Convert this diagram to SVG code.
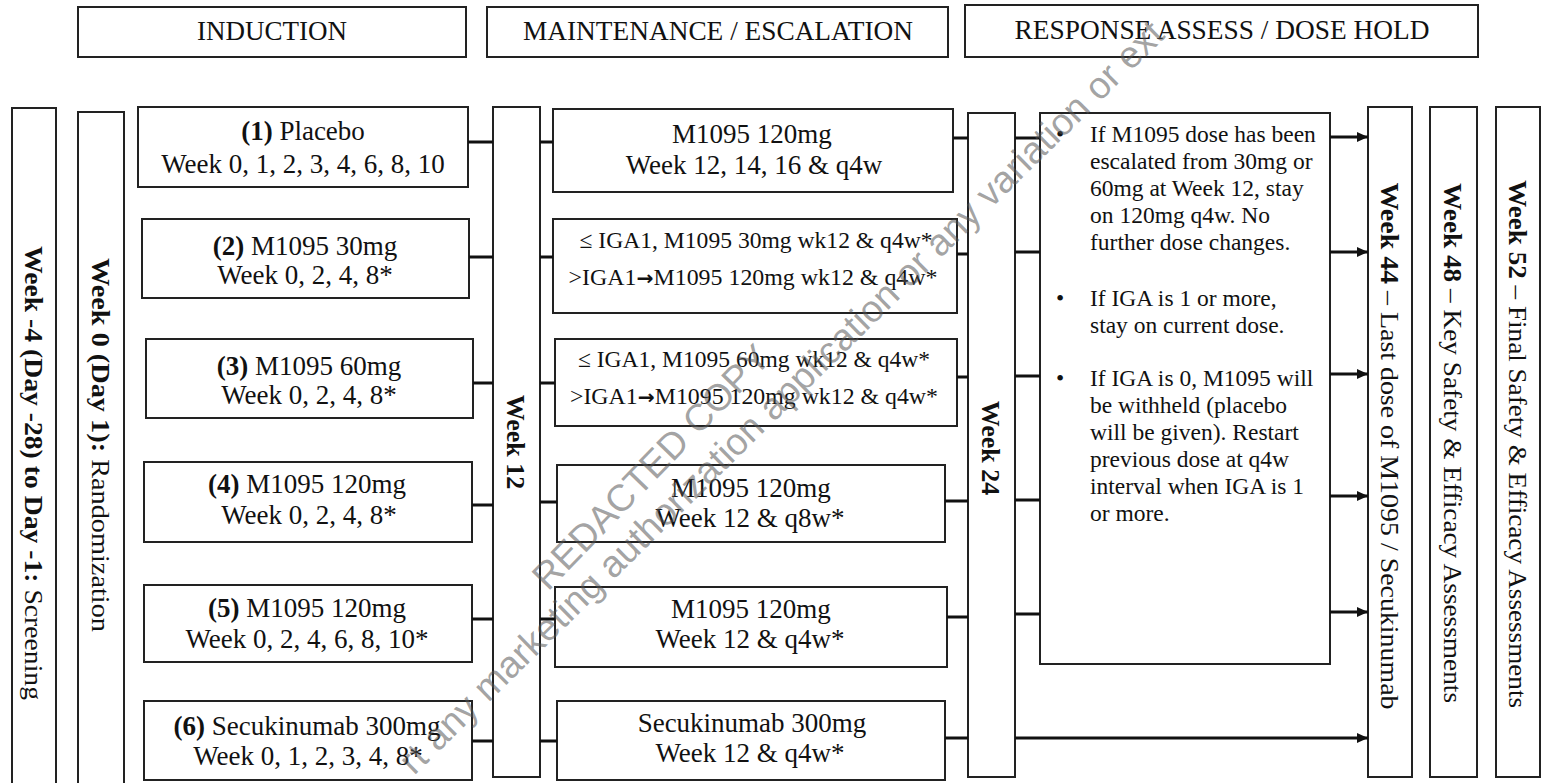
<svg xmlns="http://www.w3.org/2000/svg" width="1542" height="783" viewBox="0 0 1542 783">
<style>
.box{fill:#fff;stroke:#222;stroke-width:2}
.t{font-family:"Liberation Serif","Times New Roman",serif;fill:#111;font-size:27px}
.h{font-size:27px}
.s{font-size:23.5px}
.r{font-size:23.5px}
.v{font-size:26px}
.b{font-weight:bold}
.ar{font-family:"DejaVu Sans",sans-serif;font-weight:bold;font-size:20px}
.c{stroke:#111;stroke-width:3;fill:none}
.a{stroke:#111;stroke-width:3;fill:none;marker-end:url(#arr)}
.wm{font-family:"Liberation Sans",Arial,sans-serif;fill:#555;fill-opacity:0.55;font-size:37.5px}
</style>
<defs>
<marker id="arr" markerUnits="userSpaceOnUse" markerWidth="11" markerHeight="10" refX="11" refY="5" orient="auto">
<path d="M0,0 L11,5 L0,10 z" fill="#111"/>
</marker>
</defs>
<rect width="1542" height="783" fill="#fff"/>

<g id="hdr-induction"><rect class="box" x="78" y="7" width="388" height="50"/><text class="t h" x="272" y="40" text-anchor="middle" textLength="150" lengthAdjust="spacingAndGlyphs">INDUCTION</text></g>
<g id="hdr-maintenance"><rect class="box" x="487" y="7" width="461" height="50"/><text class="t h" x="718" y="40" text-anchor="middle" textLength="390" lengthAdjust="spacingAndGlyphs">MAINTENANCE / ESCALATION</text></g>
<g id="hdr-response"><rect class="box" x="965" y="5" width="513" height="52"/><text class="t h" x="1222" y="39" text-anchor="middle" textLength="415" lengthAdjust="spacingAndGlyphs">RESPONSE ASSESS / DOSE HOLD</text></g>

<g id="col-screening"><rect class="box" x="12" y="108" width="44" height="690"/><text class="t v" transform="translate(34,473) rotate(90)" x="0" y="9" text-anchor="middle" textLength="454" lengthAdjust="spacingAndGlyphs"><tspan class="b">Week -4 (Day -28) to Day -1:</tspan> Screening</text></g>
<g id="col-randomization"><rect class="box" x="78" y="112" width="46" height="690"/><text class="t v" transform="translate(101,445) rotate(90)" x="0" y="9" text-anchor="middle" textLength="374" lengthAdjust="spacingAndGlyphs"><tspan class="b">Week 0 (Day 1):</tspan>  Randomization</text></g>

<g id="arm1"><rect class="box" x="138" y="107" width="330" height="80"/><text class="t" x="303" y="140" text-anchor="middle"><tspan class="b">(1)</tspan> Placebo</text><text class="t" x="303" y="173" text-anchor="middle">Week 0, 1, 2, 3, 4, 6, 8, 10</text></g>
<g id="arm2"><rect class="box" x="142" y="219" width="327" height="79"/><text class="t" x="305" y="255" text-anchor="middle"><tspan class="b">(2)</tspan> M1095 30mg</text><text class="t" x="305" y="284" text-anchor="middle">Week 0, 2, 4, 8*</text></g>
<g id="arm3"><rect class="box" x="146" y="339" width="327" height="79"/><text class="t" x="309" y="375" text-anchor="middle"><tspan class="b">(3)</tspan> M1095 60mg</text><text class="t" x="309" y="404" text-anchor="middle">Week 0, 2, 4, 8*</text></g>
<g id="arm4"><rect class="box" x="144" y="462" width="328" height="80"/><text class="t" x="307" y="493" text-anchor="middle"><tspan class="b">(4)</tspan> M1095 120mg</text><text class="t" x="309" y="524" text-anchor="middle">Week 0, 2, 4, 8*</text></g>
<g id="arm5"><rect class="box" x="144" y="585" width="328" height="77"/><text class="t" x="307" y="617" text-anchor="middle"><tspan class="b">(5)</tspan> M1095 120mg</text><text class="t" x="307" y="648" text-anchor="middle">Week 0, 2, 4, 6, 8, 10*</text></g>
<g id="arm6"><rect class="box" x="144" y="701" width="328" height="79"/><text class="t" x="307" y="735" text-anchor="middle"><tspan class="b">(6)</tspan> Secukinumab 300mg</text><text class="t" x="308" y="765" text-anchor="middle">Week 0, 1, 2, 3, 4, 8*</text></g>

<g id="col-week12"><rect class="box" x="493" y="107" width="47" height="670"/><text class="t v b" transform="translate(516,442) rotate(90)" x="0" y="9" text-anchor="middle">Week 12</text></g>

<g id="maint1"><rect class="box" x="553" y="109" width="400" height="83"/><text class="t" x="752" y="143" text-anchor="middle">M1095 120mg</text><text class="t" x="754" y="174" text-anchor="middle">Week 12, 14, 16 &amp; q4w</text></g>
<g id="maint2"><rect class="box" x="553" y="219" width="404" height="94"/><text class="t s" x="756" y="248" text-anchor="middle" textLength="353" lengthAdjust="spacingAndGlyphs">≤ IGA1, M1095 30mg wk12 &amp; q4w*</text><text class="t s" x="753" y="285" text-anchor="middle" textLength="369" lengthAdjust="spacingAndGlyphs">&gt;IGA1<tspan class="ar">→</tspan>M1095 120mg wk12 &amp; q4w*</text></g>
<g id="maint3"><rect class="box" x="555" y="339" width="402" height="87"/><text class="t s" x="754" y="367" text-anchor="middle" textLength="352" lengthAdjust="spacingAndGlyphs">≤ IGA1, M1095 60mg wk12 &amp; q4w*</text><text class="t s" x="754" y="404" text-anchor="middle" textLength="368" lengthAdjust="spacingAndGlyphs">&gt;IGA1<tspan class="ar">→</tspan>M1095 120mg wk12 &amp; q4w*</text></g>
<g id="maint4"><rect class="box" x="557" y="465" width="388" height="77"/><text class="t" x="751" y="497" text-anchor="middle">M1095 120mg</text><text class="t" x="750" y="527" text-anchor="middle">Week 12 &amp; q8w*</text></g>
<g id="maint5"><rect class="box" x="555" y="587" width="392" height="80"/><text class="t" x="751" y="618" text-anchor="middle">M1095 120mg</text><text class="t" x="750" y="648" text-anchor="middle">Week 12 &amp; q4w*</text></g>
<g id="maint6"><rect class="box" x="557" y="701" width="388" height="79"/><text class="t" x="752" y="732" text-anchor="middle">Secukinumab 300mg</text><text class="t" x="750" y="762" text-anchor="middle">Week 12 &amp; q4w*</text></g>

<g id="col-week24"><rect class="box" x="968" y="113" width="47" height="664"/><text class="t v b" transform="translate(991,448) rotate(90)" x="0" y="9" text-anchor="middle">Week 24</text></g>

<g id="response"><rect class="box" x="1040" y="113" width="290" height="551"/>
<g class="t r">
<text x="1060" y="142" text-anchor="middle">•</text>
<text x="1090" y="142">If M1095 dose has been</text>
<text x="1090" y="169">escalated from 30mg or</text>
<text x="1090" y="196">60mg at Week 12, stay</text>
<text x="1090" y="223">on 120mg q4w. No</text>
<text x="1090" y="250">further dose changes.</text>
<text x="1060" y="306" text-anchor="middle">•</text>
<text x="1090" y="306">If IGA is 1 or more,</text>
<text x="1090" y="333">stay on current dose.</text>
<text x="1060" y="386" text-anchor="middle">•</text>
<text x="1090" y="386">If IGA is 0, M1095 will</text>
<text x="1090" y="413">be withheld (placebo</text>
<text x="1090" y="440">will be given). Restart</text>
<text x="1090" y="467">previous dose at q4w</text>
<text x="1090" y="494">interval when IGA is 1</text>
<text x="1090" y="521">or more.</text>
</g></g>

<g id="col-week44"><rect class="box" x="1368" y="107" width="44" height="670"/><text class="t v" transform="translate(1390,446) rotate(90)" x="0" y="9" text-anchor="middle" textLength="527" lengthAdjust="spacingAndGlyphs"><tspan class="b">Week 44</tspan> – Last dose of M1095 / Secukinumab</text></g>
<g id="col-week48"><rect class="box" x="1430" y="107" width="47" height="670"/><text class="t v" transform="translate(1453,443) rotate(90)" x="0" y="9" text-anchor="middle" textLength="520" lengthAdjust="spacingAndGlyphs"><tspan class="b">Week 48</tspan> – Key Safety &amp; Efficacy Assessments</text></g>
<g id="col-week52"><rect class="box" x="1496" y="107" width="44" height="670"/><text class="t v" transform="translate(1518,444) rotate(90)" x="0" y="9" text-anchor="middle" textLength="528" lengthAdjust="spacingAndGlyphs"><tspan class="b">Week 52</tspan> – Final Safety &amp; Efficacy Assessments</text></g>

<g id="connectors">
<path class="c" d="M468,142H493 M469,257H493 M473,383H493 M472,505H493 M472,619H493 M472,741H493"/>
<path class="c" d="M540,142H553 M540,257H553 M540,383H555 M540,502H557 M540,619H555 M540,741H557"/>
<path class="c" d="M953,138H968 M957,254H968 M957,377H968 M945,501H968 M947,617H968 M945,738H968"/>
<path class="c" d="M1015,138H1040 M1015,252H1040 M1015,376H1040 M1015,500H1040 M1015,614H1040"/>
<path class="a" d="M1330,137H1368"/>
<path class="a" d="M1330,252H1368"/>
<path class="a" d="M1330,374H1368"/>
<path class="a" d="M1330,496H1368"/>
<path class="a" d="M1330,612H1368"/>
<path class="a" d="M1015,738H1368"/>
</g>

<g id="watermark">
<text class="wm" transform="translate(548,592) rotate(-46)">REDACTED COPY</text>
<text class="wm" transform="translate(414,776) rotate(-44.5)">rt any marketing authorization application or any variation or ext</text>
</g>
</svg>
